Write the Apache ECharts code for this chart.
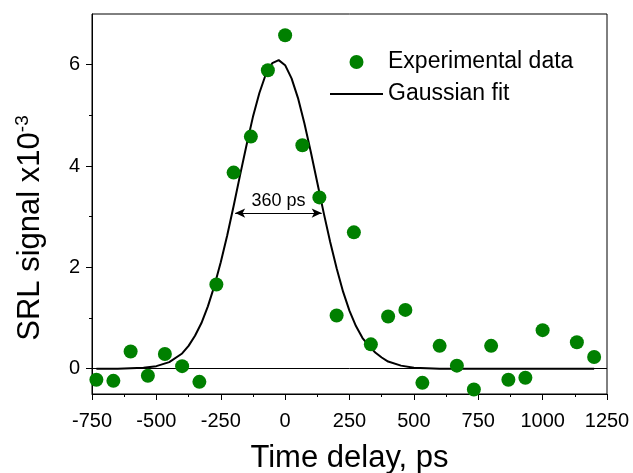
<!DOCTYPE html>
<html>
<head>
<meta charset="utf-8">
<script src="https://cdn.jsdelivr.net/npm/echarts@6/dist/echarts.min.js"></script>
<style>html,body{margin:0;padding:0;background:#fff;}#chart{width:633px;height:473px;}</style>
</head>
<body>
<div id="chart"></div>
<script>
// Experimental points
var timeDelay = [-733,-667,-600,-533,-467,-400,-333,-267,-200,-133,-67,0,67,133,200,267,333,400,467,533,600,667,733,800,867,933,1000,1133,1200];
var signal = [-0.22,-0.24,0.34,-0.14,0.29,0.05,-0.26,1.66,3.87,4.58,5.89,6.58,4.41,3.38,1.05,2.69,0.48,1.03,1.16,-0.28,0.45,0.06,-0.41,0.45,-0.22,-0.18,0.76,0.52,0.23];
// Gaussian fit curve
var fitX = [-733,-700,-650,-600,-550,-500,-450,-400,-375,-350,-325,-300,-275,-250,-225,-200,-175,-150,-125,-100,-75,-50,-25,0,25,50,75,100,125,150,175,200,225,250,275,300,325,350,375,400,450,500,550,600,700,800,900,1000,1100,1200];
var fitY = [0,0,0,0.01,0.02,0.05,0.13,0.30,0.45,0.65,0.90,1.23,1.63,2.10,2.63,3.21,3.82,4.41,4.97,5.44,5.81,6.03,6.09,5.99,5.73,5.34,4.84,4.27,3.67,3.07,2.50,1.98,1.52,1.14,0.84,0.61,0.45,0.32,0.22,0.14,0.06,0.02,0.01,0,0,0,0,0,0,0];
// FWHM annotation
var fwhmEnds = [-194, 142];
var fwhmLevel = 3.07;
var fwhmLabel = '360 ps';
// Axis ticks
var yMajorTicks = [0, 2, 4, 6];
var yMinorTicks = [1, 3, 5];
var seriesNames = ['Experimental data', 'Gaussian fit'];

var FONT = 'Liberation Sans, Arial, sans-serif';
var chart = echarts.init(document.getElementById('chart'), null, {renderer: 'canvas'});

var scatterData = timeDelay.map(function (t, i) { return [t, signal[i]]; });
var fitData = fitX.map(function (t, i) { return [t, fitY[i]]; });

chart.setOption({
  animation: false,
  backgroundColor: '#fff',
  grid: {left: 92, right: 26, top: 14, bottom: 79, show: true, borderColor: '#000', borderWidth: 1,
    backgroundColor: 'transparent', outerBoundsMode: 'none', containLabel: false},
  legend: {
    orient: 'vertical', left: 325, top: 45,
    itemWidth: 53, itemHeight: 14, itemGap: 8,
    textStyle: {fontFamily: FONT, fontSize: 23, color: '#000', lineHeight: 24},
    data: [
      {name: seriesNames[0], icon: 'circle', itemStyle: {color: '#008000', opacity: 1}},
      {name: seriesNames[1], icon: 'path://M0,0L53,0L53,2L0,2Z'}
    ],
    selectedMode: false
  },
  xAxis: {
    type: 'value', min: -750, max: 1250, interval: 250,
    name: 'Time delay, ps', nameLocation: 'middle', nameGap: 49,
    nameTextStyle: {fontFamily: FONT, fontSize: 31, color: '#000'},
    axisLine: {onZero: false, lineStyle: {color: '#000', width: 1}},
    axisTick: {show: true, length: 6, lineStyle: {color: '#000'}},
    minorTick: {show: true, splitNumber: 2, length: 3, lineStyle: {color: '#000'}},
    splitLine: {show: false},
    axisLabel: {fontFamily: FONT, fontSize: 20, color: '#000', margin: 17, formatter: function (v) { return String(v); }}
  },
  yAxis: [{
    type: 'value', min: -0.5, max: 7,
    name: 'SRL signal x10{sup|-3}', nameLocation: 'middle', nameGap: 44,
    nameTextStyle: {fontFamily: FONT, fontSize: 31, color: '#000', lineHeight: 35, padding: [0, 48, 0, 0],
      rich: {sup: {fontFamily: FONT, fontSize: 19, color: '#000', verticalAlign: 'top', lineHeight: 19}}},
    axisLine: {onZero: false, lineStyle: {color: '#000', width: 1}},
    axisTick: {show: true, length: 6, customValues: yMajorTicks, lineStyle: {color: '#000'}},
    axisLabel: {fontFamily: FONT, fontSize: 20, color: '#000', margin: 12, customValues: yMajorTicks},
    splitLine: {show: false}
  }, {
    type: 'value', min: -0.5, max: 7, position: 'left',
    axisLine: {show: false, onZero: false},
    axisTick: {show: true, length: 3, customValues: yMinorTicks, lineStyle: {color: '#000'}},
    axisLabel: {show: false},
    splitLine: {show: false}
  }],
  series: [{
    name: seriesNames[0], type: 'scatter', data: scatterData, z: 5,
    symbol: 'circle', symbolSize: 14,
    itemStyle: {color: '#008000', opacity: 1},
    emphasis: {disabled: true},
    markLine: {
      silent: true, symbol: 'none', animation: false,
      lineStyle: {color: '#000', width: 1, type: 'solid'},
      label: {show: false},
      emphasis: {disabled: true},
      data: [{yAxis: 0}]
    }
  }, {
    name: seriesNames[1], type: 'line', data: fitData, z: 3,
    showSymbol: false, symbol: 'none',
    lineStyle: {color: '#000', width: 2},
    itemStyle: {color: '#000'},
    emphasis: {disabled: true},
    markLine: {
      silent: true, symbol: ['arrow', 'arrow'], symbolSize: [7, 10], animation: false,
      lineStyle: {color: '#000', width: 1, type: 'solid'},
      label: {show: true, position: 'middle', formatter: fwhmLabel, fontFamily: FONT, fontSize: 18, color: '#000', distance: 3},
      emphasis: {disabled: true},
      data: [[{coord: [fwhmEnds[0], fwhmLevel]}, {coord: [fwhmEnds[1], fwhmLevel]}]]
    }
  }]
});
</script>
</body>
</html>
